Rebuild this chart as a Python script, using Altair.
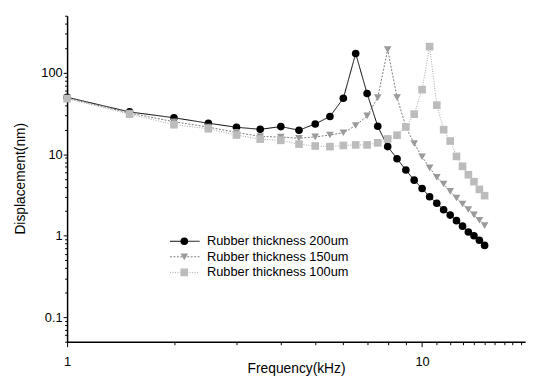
import altair as alt
import pandas as pd

# ---- data ----
freq = [1, 1.5, 2, 2.5, 3, 3.5, 4, 4.5, 5, 5.5, 6, 6.5, 7, 7.5, 8, 8.5, 9, 9.5,
        10, 10.5, 11, 11.5, 12, 12.5, 13, 13.5, 14, 14.5, 15]

series_names = ["Rubber thickness 200um", "Rubber thickness 150um", "Rubber thickness 100um"]
marker_keys = ["m200", "m150", "m100"]

disp_200 = [50, 33, 28, 24, 21.4, 20.2, 21.8, 19.7, 23.5, 29, 48.5, 172, 55.5, 22,
            12.4, 8.8, 6.4, 4.8, 3.8, 3.0, 2.5, 2.08, 1.79, 1.53, 1.31, 1.11, 1.0, 0.88, 0.76]
disp_150 = [49, 32, 25, 21.5, 18.5, 16.5, 16.2, 15.7, 16.3, 17.2, 18.3, 22.5, 29.5, 49.5,
            192, 49.7, 21.6, 13.5, 9.3, 6.8, 5.2, 4.3, 3.5, 2.9, 2.45, 2.1, 1.8, 1.55, 1.33]
disp_100 = [48, 31, 23, 20.5, 17.2, 15.3, 14.8, 13.3, 12.6, 12.4, 12.8, 13, 13, 13.8,
            15.4, 17.1, 21.6, 31, 62, 209, 40, 20, 14.5, 9.4, 7.1, 5.6, 4.6, 3.7, 3.1]

x_ticks = [1, 2, 3, 4, 5, 6, 7, 8, 9, 10, 11, 12, 13, 14, 15, 16, 17, 18, 19]
y_ticks = [0.05, 0.06, 0.07, 0.08, 0.09,
           0.1, 0.2, 0.3, 0.4, 0.5, 0.6, 0.7, 0.8, 0.9,
           1, 2, 3, 4, 5, 6, 7, 8, 9,
           10, 20, 30, 40, 50, 60, 70, 80, 90,
           100, 200, 300, 400, 500]

line_colors = ["#000000", "#7a7a7a", "#a6a6a6"]
marker_fills = ["#000000", "#9a9a9a", "#bcbcbc"]
line_dashes = [[1, 0], [2, 1.5], [1, 1.5]]
marker_shapes = ["circle", "triangle-down", "square"]

rows = []
for name, key, vals in zip(series_names, marker_keys, [disp_200, disp_150, disp_100]):
    for f, v in zip(freq, vals):
        rows.append({"freq": f, "disp": v, "series": name, "series_pt": key})
df = pd.DataFrame(rows)

FONT = "Liberation Sans"
is_major = "abs(log(datum.value)/LN10 - round(log(datum.value)/LN10)) < 0.001"

x_enc = alt.X(
    "freq:Q",
    scale=alt.Scale(type="log", domain=[1, 19.5]),
    axis=alt.Axis(
        values=x_ticks, format="~g",
        labelExpr=f"({is_major}) ? datum.label : ''",
        tickSize={"condition": {"test": is_major, "value": 5}, "value": 3},
        title="Frequency(kHz)", titleFontSize=14, titleY=27, titleBaseline="middle",
        labelFontSize=13, labelPadding=9, labelFlush=False, domainWidth=1.5,
    ),
)
y_enc = alt.Y(
    "disp:Q",
    scale=alt.Scale(type="log", domain=[0.05, 500]),
    axis=alt.Axis(
        values=y_ticks, format="~g",
        labelExpr=f"({is_major}) ? datum.label : ''",
        tickSize={"condition": {"test": is_major, "value": 4}, "value": 2.5},
        title="Displacement(nm)", titleFontSize=14, titleX=-47, titleY=165,
        titleAngle=270, titleAlign="center", titleBaseline="middle",
        labelFontSize=13, labelPadding=1, labelFlush=False, domainWidth=1.5,
    ),
)

leg_lines = alt.Legend(
    title=None, orient="none", legendX=104, legendY=222, padding=0,
    symbolType="stroke", symbolSize=900, symbolStrokeWidth=1,
    clipHeight=14, rowPadding=1.8, labelOffset=7,
    labelFont=FONT, labelFontSize=13, labelColor="black",
)
leg_marks = alt.Legend(
    title=None, orient="none", legendX=114, legendY=222, padding=0,
    symbolSize=60, symbolStrokeWidth=0, symbolOpacity=1,
    clipHeight=14, rowPadding=1.8, labelExpr="''",
)

lines = alt.Chart(df).mark_line(strokeWidth=1).encode(
    x=x_enc, y=y_enc,
    stroke=alt.Stroke("series:N", sort=series_names,
                      scale=alt.Scale(domain=series_names, range=line_colors),
                      legend=leg_lines),
    strokeDash=alt.StrokeDash("series:N", sort=series_names,
                              scale=alt.Scale(domain=series_names, range=line_dashes),
                              legend=leg_lines),
)

points = alt.Chart(df).mark_point(filled=True, opacity=1, size=60).encode(
    x=x_enc, y=y_enc,
    fill=alt.Fill("series_pt:N", sort=marker_keys,
                  scale=alt.Scale(domain=marker_keys, range=marker_fills),
                  legend=leg_marks),
    shape=alt.Shape("series_pt:N", sort=marker_keys,
                    scale=alt.Scale(domain=marker_keys, range=marker_shapes),
                    legend=leg_marks),
)

chart = (
    alt.layer(lines, points)
    .properties(
        width=465, height=331,
        padding={"left": 60, "top": 5, "right": 4, "bottom": 35},
        autosize=alt.AutoSizeParams(type="none"),
        background="white",
    )
    .configure_view(stroke=None)
    .configure_axis(
        grid=False, labelFont=FONT, titleFont=FONT, titleFontWeight="normal",
        domainColor="black", tickColor="black", labelColor="black", titleColor="black",
    )
    .configure_legend(labelFont=FONT)
)

chart.save("out.html", embed_options={"renderer": "svg", "actions": False})
